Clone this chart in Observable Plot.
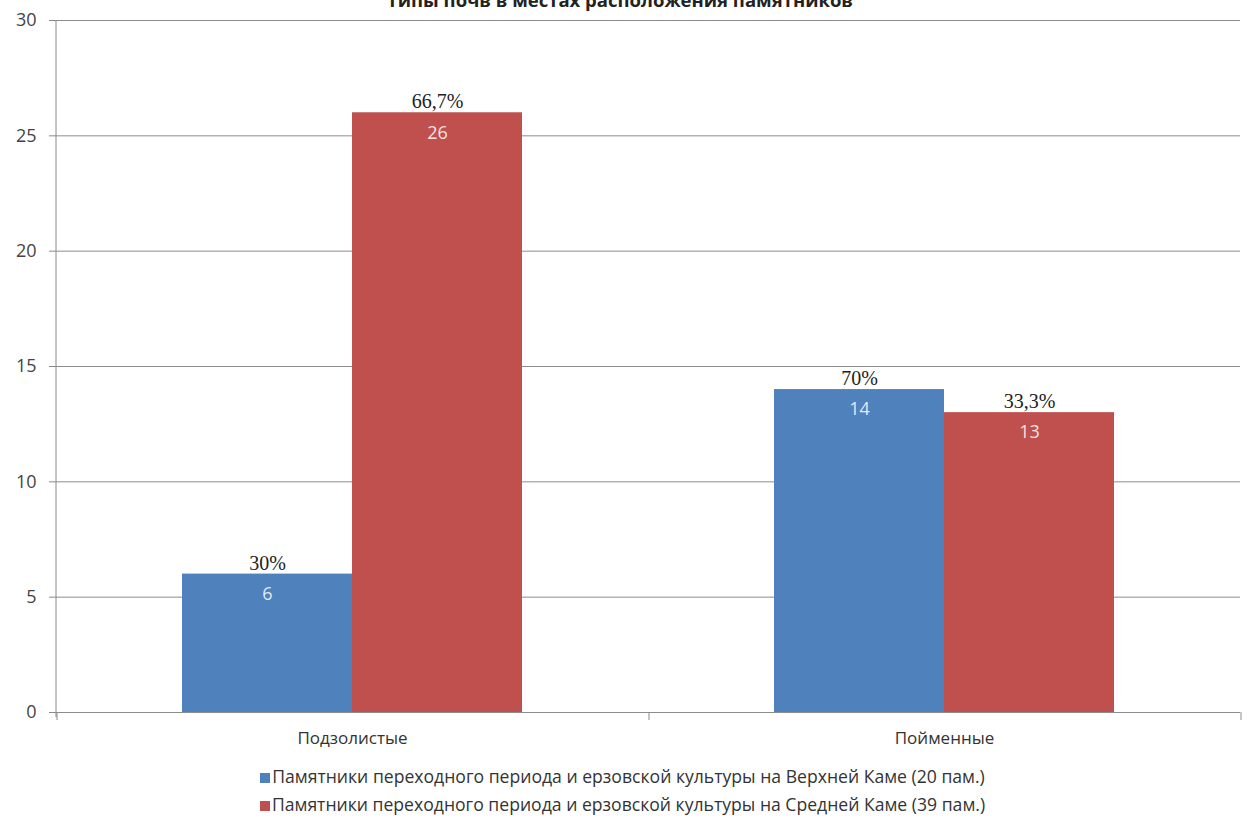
<!DOCTYPE html>
<html>
<head>
<meta charset="utf-8">
<script src="https://cdn.jsdelivr.net/npm/d3@7"></script>
<script src="https://cdn.jsdelivr.net/npm/@observablehq/plot@0.6"></script>
<style>
  html, body { margin: 0; padding: 0; background: #fff; }
  body { width: 1253px; height: 827px; position: relative; overflow: hidden; font-family: "Open Sans", "Noto Sans", sans-serif; }
  #title { position: absolute; top: -13px; left: 0; width: 1240px; text-align: center; font-size: 18.5px; font-weight: bold; color: #222; }
  #legend { position: absolute; top: 762px; left: 0; width: 1245px; text-align: center; font-size: 17.6px; color: #333; }
  .item { height: 28px; line-height: 28px; white-space: nowrap; }
  .sw { display: inline-block; width: 10px; height: 10px; margin-right: 2px; vertical-align: 0px; }
</style>
</head>
<body>
<div id="chart"></div>
<div id="title"></div>
<div id="legend"></div>
<script>
const titleText = "Типы почв в местах расположения памятников";
const categories = ["Подзолистые", "Пойменные"];
const series = [
  "Памятники переходного периода и ерзовской культуры на Верхней Каме (20 пам.)",
  "Памятники переходного периода и ерзовской культуры на Средней Каме (39 пам.)"
];
const upperKama = [6, 14];
const middleKama = [26, 13];
const upperPct = ["30%", "70%"];
const middlePct = ["66,7%", "33,3%"];
const colors = ["#4F81BD", "#C0504D"];
const yTicks = [0, 5, 10, 15, 20, 25, 30];

const data = [];
categories.forEach((c, i) => {
  data.push({category: c, series: series[0], value: upperKama[i], pct: upperPct[i]});
  data.push({category: c, series: series[1], value: middleKama[i], pct: middlePct[i]});
});

// Axis lines: drawn once (first facet, whose group is not translated)
let axisDrawn = false;
function axisLines(index, scales, values, dimensions) {
  if (axisDrawn) return null;
  axisDrawn = true;
  const {marginLeft, marginRight, width} = dimensions;
  const y = scales.y;
  const g = d3.create("svg:g").attr("stroke", "#8a8a8a").attr("fill", "none");
  const y0 = y(0), y1 = y(30);
  g.append("line").attr("x1", marginLeft).attr("x2", marginLeft).attr("y1", y1).attr("y2", y0 + 5);
  let bounds;
  if (scales.fx && scales.fx.bandwidth) {
    bounds = categories.map(c => scales.fx(c));
    bounds.push(scales.fx(categories[categories.length - 1]) + scales.fx.bandwidth());
  } else {
    const l = marginLeft, r = width - marginRight;
    bounds = [l, (l + r) / 2, r];
  }
  bounds.forEach(b => g.append("line").attr("x1", b).attr("x2", b).attr("y1", y0).attr("y2", y0 + 8));
  return g.node();
}

const chart = Plot.plot({
  width: 1253,
  height: 760,
  marginTop: 20,
  marginBottom: 48,
  marginLeft: 55,
  marginRight: 13,
  style: {fontFamily: "'Open Sans', 'Noto Sans', sans-serif", color: "#333", background: "#fff"},
  fx: {domain: categories, padding: 0, label: null},
  x: {domain: series, paddingInner: 0, paddingOuter: 0.74, axis: null},
  y: {domain: [0, 30], axis: null},
  color: {domain: series, range: colors},
  marks: [
    Plot.ruleY(yTicks, {stroke: "#8c8c8c", strokeWidth: 1}),
    Plot.axisY({ticks: yTicks, tickSize: 7, tickPadding: 13, fontSize: 18, label: null, stroke: "#8a8a8a", fill: "#444"}),
    Plot.axisFx({anchor: "bottom", tickSize: 0, tickPadding: 19, fontSize: 17, label: null, fill: "#333"}),
    Plot.barY(data, {fx: "category", x: "series", y: "value", fill: "series"}),
    Plot.text(data, {fx: "category", x: "series", y: "value", text: "pct", dy: -11, fontSize: 20, fill: "#222", fontFamily: "'Liberation Serif', serif"}),
    Plot.text(data, {fx: "category", x: "series", y: "value", text: d => String(d.value), dy: 20, fontSize: 18, fill: "#ffffff", fillOpacity: 0.85}),
    axisLines
  ]
});
document.getElementById("chart").appendChild(chart);

document.getElementById("title").textContent = titleText;
const legend = d3.select("#legend");
series.forEach((s, i) => {
  const it = legend.append("div").attr("class", "item");
  it.append("span").attr("class", "sw").style("background", colors[i]);
  it.append("span").text(s);
});
</script>
</body>
</html>
